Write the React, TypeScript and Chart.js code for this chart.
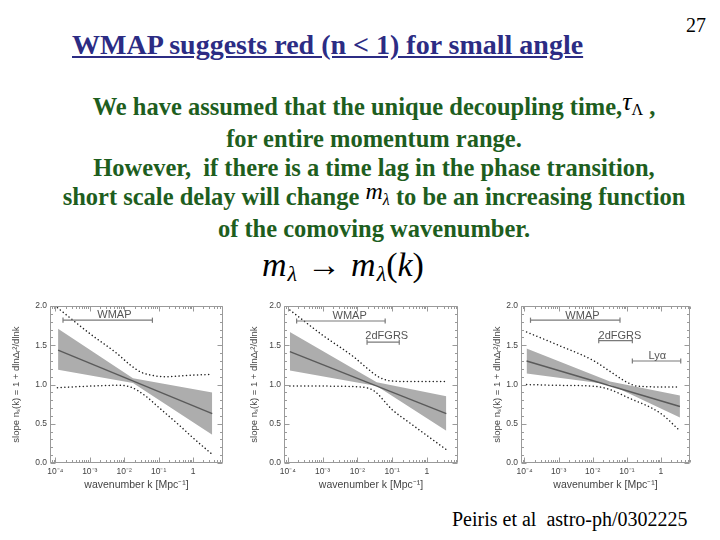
import React, { useEffect, useRef } from "react";
import { Chart, registerables } from "chart.js";

Chart.register(...registerables);

// ---------- shared axis data ----------
const xTickValues = [1e-4, 1e-3, 1e-2, 1e-1, 1];
const xTickLabels = ["10⁻⁴", "10⁻³", "10⁻²", "10⁻¹", "1"];
const yTickValues = [0, 0.5, 1.0, 1.5, 2.0];
const yTickLabels = ["0.0", "0.5", "1.0", "1.5", "2.0"];
const yAxisTitle = "slope nₛ(k) = 1 + dlnΔᵣ²/dlnk";
const xAxisTitle = "wavenumber k [Mpc⁻¹]";

// ---------- panel 1 : WMAP ----------
const p1Range = [7.1e-5, 7.4];
const p1BandK = [1.2e-4, 0.018, 3.6];
const p1BandHigh = [1.71, 1.08, 0.9];
const p1BandLow = [1.19, 1.02, 0.36];
const p1MeanK = [1.2e-4, 3.6];
const p1Mean = [1.44, 0.63];
const p1UpperK = [1.15e-4, 1e-3, 6e-3, 1.5e-2, 3e-2, 6e-2, 0.15, 1, 3.6];
const p1Upper = [1.98, 1.65, 1.4, 1.25, 1.16, 1.12, 1.1, 1.12, 1.13];
const p1LowerK = [1.15e-4, 1e-3, 6e-3, 1.5e-2, 4e-2, 0.1, 0.4, 1, 3.6];
const p1Lower = [0.96, 0.98, 0.99, 0.97, 0.86, 0.71, 0.48, 0.32, 0.11];
const p1BarNames = ["WMAP"];
const p1BarFrom = [1.67e-4];
const p1BarTo = [0.066];
const p1BarY = [1.82];
const p1LabelK = [5.2e-3];
const p1LabelY = [1.85];

// ---------- panel 2 : WMAP + 2dFGRS ----------
const p2Range = [7.8e-5, 7.8];
const p2BandK = [1.15e-4, 0.036, 3.6];
const p2BandHigh = [1.67, 1.03, 0.85];
const p2BandLow = [1.18, 0.98, 0.41];
const p2MeanK = [1.15e-4, 3.6];
const p2Mean = [1.42, 0.63];
const p2UpperK = [1.15e-4, 1e-3, 8e-3, 2e-2, 4e-2, 8e-2, 0.2, 1, 3.6];
const p2Upper = [1.95, 1.63, 1.35, 1.2, 1.1, 1.05, 1.04, 1.04, 1.04];
const p2LowerK = [1.15e-4, 1e-3, 1.2e-2, 3e-2, 0.1, 0.3, 1, 3.6];
const p2Lower = [0.98, 0.98, 0.97, 0.92, 0.68, 0.52, 0.35, 0.17];
const p2BarNames = ["WMAP", "2dFGRS"];
const p2BarFrom = [1.8e-4, 0.019];
const p2BarTo = [0.063, 0.16];
const p2BarY = [1.81, 1.54];
const p2LabelK = [6e-3, 7e-2];
const p2LabelY = [1.84, 1.58];

// ---------- panel 3 : WMAP + 2dFGRS + Lyα ----------
const p3Range = [7.9e-5, 7.1];
const p3BandK = [1.15e-4, 0.032, 3.6];
const p3BandHigh = [1.46, 1.04, 0.86];
const p3BandLow = [1.14, 1.0, 0.58];
const p3MeanK = [1.15e-4, 3.6];
const p3Mean = [1.3, 0.72];
const p3UpperK = [1.15e-4, 1e-3, 1e-2, 4e-2, 0.1, 0.2, 1, 3.6];
const p3Upper = [1.67, 1.5, 1.31, 1.14, 1.03, 0.98, 0.97, 0.97];
const p3LowerK = [1.15e-4, 1e-3, 1e-2, 3e-2, 0.1, 1, 3.6];
const p3Lower = [1.0, 0.99, 0.98, 0.94, 0.84, 0.63, 0.41];
const p3BarNames = ["WMAP", "2dFGRS", "Lyα"];
const p3BarFrom = [1.5e-4, 0.015, 0.145];
const p3BarTo = [0.063, 0.145, 3.8];
const p3BarY = [1.82, 1.56, 1.3];
const p3LabelK = [5e-3, 6.3e-2, 0.78];
const p3LabelY = [1.84, 1.58, 1.33];

type PanelData = {
  range: number[];
  bandK: number[];
  bandHigh: number[];
  bandLow: number[];
  meanK: number[];
  mean: number[];
  upperK: number[];
  upper: number[];
  lowerK: number[];
  lower: number[];
  barNames: string[];
  barFrom: number[];
  barTo: number[];
  barY: number[];
  labelK: number[];
  labelY: number[];
};

const panels: PanelData[] = [
  {
    range: p1Range, bandK: p1BandK, bandHigh: p1BandHigh, bandLow: p1BandLow,
    meanK: p1MeanK, mean: p1Mean, upperK: p1UpperK, upper: p1Upper,
    lowerK: p1LowerK, lower: p1Lower, barNames: p1BarNames, barFrom: p1BarFrom,
    barTo: p1BarTo, barY: p1BarY, labelK: p1LabelK, labelY: p1LabelY,
  },
  {
    range: p2Range, bandK: p2BandK, bandHigh: p2BandHigh, bandLow: p2BandLow,
    meanK: p2MeanK, mean: p2Mean, upperK: p2UpperK, upper: p2Upper,
    lowerK: p2LowerK, lower: p2Lower, barNames: p2BarNames, barFrom: p2BarFrom,
    barTo: p2BarTo, barY: p2BarY, labelK: p2LabelK, labelY: p2LabelY,
  },
  {
    range: p3Range, bandK: p3BandK, bandHigh: p3BandHigh, bandLow: p3BandLow,
    meanK: p3MeanK, mean: p3Mean, upperK: p3UpperK, upper: p3Upper,
    lowerK: p3LowerK, lower: p3Lower, barNames: p3BarNames, barFrom: p3BarFrom,
    barTo: p3BarTo, barY: p3BarY, labelK: p3LabelK, labelY: p3LabelY,
  },
];

// layout of each panel's plot box (page pixels)
const panelBoxes = [
  { plotLeft: 50, plotTop: 306, plotW: 173, plotH: 157, titlePad: 1 },
  { plotLeft: 284, plotTop: 306, plotW: 174, plotH: 157, titlePad: 5 },
  { plotLeft: 521, plotTop: 306, plotW: 169, plotH: 157, titlePad: 11 },
];

const Y_AXIS_W = 40;
const X_AXIS_H = 30;
const PAD_TOP = 8;
const PAD_RIGHT = 6;
const SANS = '"Liberation Sans", Arial, sans-serif';
const SERIF = '"Liberation Serif", "Times New Roman", serif';

const pts = (ks: number[], ys: number[]) => ks.map((k, i) => ({ x: k, y: ys[i] }));

const frameTicks = {
  id: "frameTicks",
  afterDatasetsDraw(chart: any) {
    const { ctx, chartArea, scales } = chart;
    const { left, right, top, bottom } = chartArea;
    const xs = scales.x;
    const ys = scales.y;
    ctx.save();
    ctx.strokeStyle = "#9a9a9a";
    ctx.lineWidth = 1;
    const L = Math.round(left) + 0.5;
    const R = Math.round(right) - 0.5;
    const T = Math.round(top) + 0.5;
    const B = Math.round(bottom) - 0.5;
    ctx.beginPath();
    ctx.rect(L, T, R - L, B - T);
    ctx.stroke();
    ctx.beginPath();
    for (let d = -5; d <= 1; d++) {
      for (let m = 1; m <= 9; m++) {
        const v = m * Math.pow(10, d);
        if (v < xs.min || v > xs.max) continue;
        const px = Math.round(xs.getPixelForValue(v)) + 0.5;
        const len = m === 1 ? 5 : 2.5;
        ctx.moveTo(px, B);
        ctx.lineTo(px, B - len);
        ctx.moveTo(px, T);
        ctx.lineTo(px, T + len);
      }
    }
    for (let i = 0; i <= 20; i++) {
      const py = Math.round(ys.getPixelForValue(i / 10)) + 0.5;
      const len = i % 5 === 0 ? 5 : 2.5;
      ctx.moveTo(L, py);
      ctx.lineTo(L + len, py);
      ctx.moveTo(R, py);
      ctx.lineTo(R - len, py);
    }
    ctx.stroke();
    ctx.restore();
  },
};

function makeConfig(p: PanelData, titlePad: number): any {
  const barSets = p.barNames.map((name, i) => ({
    label: name,
    data: [
      { x: p.barFrom[i], y: p.barY[i] },
      { x: p.barTo[i], y: p.barY[i] },
    ],
    borderColor: "#7a7a7a",
    borderWidth: 1.2,
    pointStyle: "line",
    rotation: 90,
    pointRadius: 2.6,
    pointBorderColor: "#7a7a7a",
    pointBorderWidth: 1.2,
    fill: false,
  }));

  const barLabels = {
    id: "barLabels",
    afterDatasetsDraw(chart: any) {
      const { ctx, scales } = chart;
      ctx.save();
      ctx.fillStyle = "#555";
      ctx.font = `11px ${SANS}`;
      ctx.textAlign = "center";
      ctx.textBaseline = "alphabetic";
      p.barNames.forEach((name, i) => {
        ctx.fillText(name, scales.x.getPixelForValue(p.labelK[i]), scales.y.getPixelForValue(p.labelY[i]));
      });
      ctx.restore();
    },
  };

  return {
    type: "line",
    data: {
      datasets: [
        ...barSets,
        {
          label: "mean",
          data: pts(p.meanK, p.mean),
          borderColor: "#5a5a5a",
          borderWidth: 1.4,
          pointRadius: 0,
          fill: false,
        },
        {
          label: "upper bound",
          data: pts(p.upperK, p.upper),
          borderColor: "#222",
          borderWidth: 1.5,
          borderDash: [0.1, 3.6],
          borderCapStyle: "round",
          cubicInterpolationMode: "monotone",
          pointRadius: 0,
          fill: false,
        },
        {
          label: "lower bound",
          data: pts(p.lowerK, p.lower),
          borderColor: "#222",
          borderWidth: 1.5,
          borderDash: [0.1, 3.6],
          borderCapStyle: "round",
          cubicInterpolationMode: "monotone",
          pointRadius: 0,
          fill: false,
        },
        {
          label: "band high",
          data: pts(p.bandK, p.bandHigh),
          borderWidth: 0,
          borderColor: "rgba(0,0,0,0)",
          backgroundColor: "#adadad",
          pointRadius: 0,
          fill: "+1",
        },
        {
          label: "band low",
          data: pts(p.bandK, p.bandLow),
          borderWidth: 0,
          borderColor: "rgba(0,0,0,0)",
          pointRadius: 0,
          fill: false,
        },
      ],
    },
    options: {
      animation: false,
      responsive: true,
      maintainAspectRatio: false,
      layout: { padding: { top: PAD_TOP, right: PAD_RIGHT, left: 0, bottom: 0 } },
      plugins: { legend: { display: false }, tooltip: { enabled: false } },
      scales: {
        x: {
          type: "logarithmic",
          min: p.range[0],
          max: p.range[1],
          afterBuildTicks: (scale: any) => {
            scale.ticks = xTickValues.map((v) => ({ value: v }));
          },
          afterFit: (scale: any) => {
            scale.height = X_AXIS_H;
          },
          grid: { display: false, drawTicks: false },
          border: { display: false },
          ticks: {
            autoSkip: false,
            maxRotation: 0,
            padding: 4,
            color: "#444",
            font: { family: SANS, size: 8.5 },
            callback: (_v: any, i: number) => xTickLabels[i],
          },
          title: {
            display: true,
            text: xAxisTitle,
            color: "#444",
            font: { family: SANS, size: 10.5 },
            padding: { top: 0, bottom: 2 },
          },
        },
        y: {
          type: "linear",
          min: 0,
          max: 2,
          afterBuildTicks: (scale: any) => {
            scale.ticks = yTickValues.map((v) => ({ value: v }));
          },
          afterFit: (scale: any) => {
            scale.width = Y_AXIS_W;
          },
          grid: { display: false, drawTicks: false },
          border: { display: false },
          ticks: {
            padding: 3,
            color: "#444",
            font: { family: SANS, size: 8.5 },
            callback: (_v: any, i: number) => yTickLabels[i],
          },
          title: {
            display: true,
            text: yAxisTitle,
            color: "#444",
            font: { family: SANS, size: 9.5 },
            padding: { top: titlePad, bottom: 0 },
          },
        },
      },
    },
    plugins: [frameTicks, barLabels],
  };
}

function Panel({ index }: { index: number }) {
  const ref = useRef<HTMLCanvasElement>(null);
  const box = panelBoxes[index];
  useEffect(() => {
    const chart = new Chart(ref.current as HTMLCanvasElement, makeConfig(panels[index], box.titlePad));
    return () => chart.destroy();
  }, [index]);
  return (
    <div
      style={{
        position: "absolute",
        left: box.plotLeft - Y_AXIS_W,
        top: box.plotTop - PAD_TOP,
        width: Y_AXIS_W + box.plotW + PAD_RIGHT,
        height: PAD_TOP + box.plotH + X_AXIS_H,
      }}
    >
      <canvas ref={ref} />
    </div>
  );
}

const mathStyle: React.CSSProperties = {
  fontWeight: "normal",
  fontStyle: "italic",
  color: "#000",
  fontFamily: SERIF,
};

export default function App() {
  return (
    <div
      style={{
        position: "absolute",
        left: 0,
        top: 0,
        width: 720,
        height: 540,
        background: "#fff",
        overflow: "hidden",
      }}
    >
      <div
        style={{
          position: "absolute",
          left: 686,
          top: 15,
          font: `20px ${SERIF}`,
          lineHeight: "20px",
          color: "#000",
        }}
      >
        27
      </div>
      <div
        style={{
          position: "absolute",
          left: 72,
          top: 31,
          font: `bold 28px ${SERIF}`,
          lineHeight: "28px",
          color: "#2c2c84",
          textDecoration: "underline",
          whiteSpace: "nowrap",
        }}
      >
        WMAP suggests red (n &lt; 1) for small angle
      </div>

      <div
        style={{
          position: "absolute",
          left: 24,
          top: 92,
          width: 700,
          textAlign: "center",
          font: `bold 24.5px ${SERIF}`,
          lineHeight: "29px",
          color: "#1e5e1e",
          whiteSpace: "nowrap",
        }}
      >
        <div>
          We have assumed that the unique decoupling time,
          <span style={{ ...mathStyle, fontSize: 26, position: "relative", top: -5 }}>
            τ
            <span style={{ fontStyle: "normal", fontSize: 16, position: "relative", top: 5 }}>Λ</span>
          </span>{" "}
          ,
        </div>
        <div>for entire momentum range.</div>
        <div>However,&nbsp; if there is a time lag in the phase transition,</div>
        <div>
          short scale delay will change{" "}
          <span style={{ ...mathStyle, fontSize: 24, position: "relative", top: -6 }}>
            m
            <span style={{ fontSize: 16, position: "relative", top: 6 }}>λ</span>
          </span>{" "}
          to be an increasing function
        </div>
        <div>of the comoving wavenumber.</div>
      </div>

      <div
        style={{
          position: "absolute",
          left: 262,
          top: 247,
          ...mathStyle,
          fontSize: 34,
          lineHeight: "36px",
          whiteSpace: "nowrap",
        }}
      >
        m<span style={{ fontSize: 22, position: "relative", top: 5, marginLeft: 1 }}>λ</span>
        <span style={{ fontStyle: "normal", margin: "0 10px" }}>→</span>m
        <span style={{ fontSize: 22, position: "relative", top: 5, marginLeft: 1 }}>λ</span>
        <span style={{ fontStyle: "normal" }}>(</span>k<span style={{ fontStyle: "normal" }}>)</span>
      </div>

      <Panel index={0} />
      <Panel index={1} />
      <Panel index={2} />

      <div
        style={{
          position: "absolute",
          left: 452,
          top: 509,
          font: `20px ${SERIF}`,
          lineHeight: "20px",
          color: "#000",
          whiteSpace: "pre",
        }}
      >
        Peiris et al  astro-ph/0302225
      </div>
    </div>
  );
}
